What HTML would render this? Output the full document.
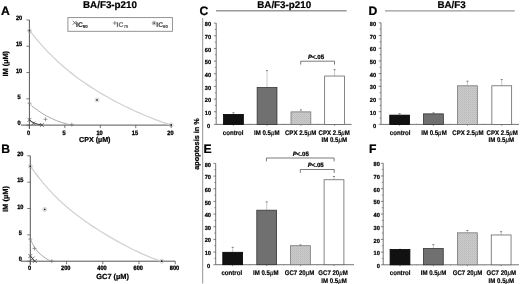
<!DOCTYPE html>
<html><head><meta charset="utf-8"><style>
html,body{margin:0;padding:0;background:#fff;}
svg{display:block;font-family:"Liberation Sans", sans-serif;text-rendering:geometricPrecision;filter:grayscale(1) blur(0.3px);}

</style></head><body>
<svg width="520" height="284" viewBox="0 0 520 284">
<defs><pattern id="dots" width="2" height="2" patternUnits="userSpaceOnUse"><rect width="2" height="2" fill="#cccccc"/><rect width="1" height="1" fill="#b9b9b9"/><rect x="1" y="1" width="1" height="1" fill="#c1c1c1"/></pattern></defs>
<rect width="520" height="284" fill="#fff"/>
<text x="1.0" y="15.2" font-size="12.2" font-weight="bold" text-anchor="start" fill="#000" stroke="#000" stroke-width="0.22" >A</text>
<text x="1.2" y="152.8" font-size="12.2" font-weight="bold" text-anchor="start" fill="#000" stroke="#000" stroke-width="0.22" >B</text>
<text x="199.5" y="14.8" font-size="12.2" font-weight="bold" text-anchor="start" fill="#000" stroke="#000" stroke-width="0.22" >C</text>
<text x="368.5" y="15.0" font-size="12.2" font-weight="bold" text-anchor="start" fill="#000" stroke="#000" stroke-width="0.22" >D</text>
<text x="203.5" y="153.0" font-size="12.2" font-weight="bold" text-anchor="start" fill="#000" stroke="#000" stroke-width="0.22" >E</text>
<text x="369.0" y="153.0" font-size="12.2" font-weight="bold" text-anchor="start" fill="#000" stroke="#000" stroke-width="0.22" >F</text>
<line x1="29.4" y1="20.0" x2="29.4" y2="129.0" stroke="#555" stroke-width="1.0"/>
<line x1="21.0" y1="125.1" x2="171.2" y2="125.1" stroke="#555" stroke-width="1.0"/>
<line x1="26.4" y1="125.1" x2="29.4" y2="125.1" stroke="#555" stroke-width="0.8"/>
<text transform="translate(19.0,125.1) scale(1,1.12)" font-size="5.6" font-weight="bold" text-anchor="middle" fill="#000" stroke="#000" stroke-width="0.3" >0</text>
<line x1="26.4" y1="98.82499999999999" x2="29.4" y2="98.82499999999999" stroke="#555" stroke-width="0.8"/>
<text transform="translate(19.0,98.82499999999999) scale(1,1.12)" font-size="5.6" font-weight="bold" text-anchor="middle" fill="#000" stroke="#000" stroke-width="0.3" >5</text>
<line x1="26.4" y1="72.55" x2="29.4" y2="72.55" stroke="#555" stroke-width="0.8"/>
<text transform="translate(19.0,72.55) scale(1,1.12)" font-size="5.6" font-weight="bold" text-anchor="middle" fill="#000" stroke="#000" stroke-width="0.3" >10</text>
<line x1="26.4" y1="46.27499999999999" x2="29.4" y2="46.27499999999999" stroke="#555" stroke-width="0.8"/>
<text transform="translate(19.0,46.27499999999999) scale(1,1.12)" font-size="5.6" font-weight="bold" text-anchor="middle" fill="#000" stroke="#000" stroke-width="0.3" >15</text>
<line x1="26.4" y1="20.0" x2="29.4" y2="20.0" stroke="#555" stroke-width="0.8"/>
<text transform="translate(19.0,20.0) scale(1,1.12)" font-size="5.6" font-weight="bold" text-anchor="middle" fill="#000" stroke="#000" stroke-width="0.3" >20</text>
<line x1="29.4" y1="125.1" x2="29.4" y2="128.1" stroke="#555" stroke-width="0.8"/>
<text transform="translate(28.599999999999998,134.9) scale(1,1.12)" font-size="5.6" font-weight="bold" text-anchor="middle" fill="#000" stroke="#000" stroke-width="0.3" >0</text>
<line x1="64.85" y1="125.1" x2="64.85" y2="128.1" stroke="#555" stroke-width="0.8"/>
<text transform="translate(64.05,134.9) scale(1,1.12)" font-size="5.6" font-weight="bold" text-anchor="middle" fill="#000" stroke="#000" stroke-width="0.3" >5</text>
<line x1="100.29999999999998" y1="125.1" x2="100.29999999999998" y2="128.1" stroke="#555" stroke-width="0.8"/>
<text transform="translate(99.49999999999999,134.9) scale(1,1.12)" font-size="5.6" font-weight="bold" text-anchor="middle" fill="#000" stroke="#000" stroke-width="0.3" >10</text>
<line x1="135.74999999999997" y1="125.1" x2="135.74999999999997" y2="128.1" stroke="#555" stroke-width="0.8"/>
<text transform="translate(134.94999999999996,134.9) scale(1,1.12)" font-size="5.6" font-weight="bold" text-anchor="middle" fill="#000" stroke="#000" stroke-width="0.3" >15</text>
<line x1="171.2" y1="125.1" x2="171.2" y2="128.1" stroke="#555" stroke-width="0.8"/>
<text transform="translate(170.39999999999998,134.9) scale(1,1.12)" font-size="5.6" font-weight="bold" text-anchor="middle" fill="#000" stroke="#000" stroke-width="0.3" >20</text>
<text x="110.0" y="8.2" font-size="9.8" font-weight="bold" text-anchor="middle" fill="#000" stroke="#000" stroke-width="0.22" >BA/F3-p210</text>
<rect x="67.9" y="17.6" width="104.5" height="13.7" fill="#fff" stroke="#888" stroke-width="0.9"/>
<text x="79.0" y="142.2" font-size="7.15" font-weight="bold" text-anchor="start" fill="#000" stroke="#000" stroke-width="0.22" >CPX (µM)</text>
<text transform="translate(7.7,63.8) rotate(-90)" font-size="7.4" font-weight="bold" text-anchor="middle" stroke="#000" stroke-width="0.22">IM (µM)</text>
<line x1="30.3" y1="155.8" x2="30.3" y2="265.0" stroke="#555" stroke-width="1.0"/>
<line x1="21.0" y1="261.2" x2="175.3" y2="261.2" stroke="#555" stroke-width="1.0"/>
<line x1="27.3" y1="261.2" x2="30.3" y2="261.2" stroke="#555" stroke-width="0.8"/>
<text transform="translate(20.3,261.2) scale(1,1.12)" font-size="5.6" font-weight="bold" text-anchor="middle" fill="#000" stroke="#000" stroke-width="0.3" >0</text>
<line x1="27.3" y1="234.85" x2="30.3" y2="234.85" stroke="#555" stroke-width="0.8"/>
<text transform="translate(20.3,234.85) scale(1,1.12)" font-size="5.6" font-weight="bold" text-anchor="middle" fill="#000" stroke="#000" stroke-width="0.3" >5</text>
<line x1="27.3" y1="208.5" x2="30.3" y2="208.5" stroke="#555" stroke-width="0.8"/>
<text transform="translate(20.3,208.5) scale(1,1.12)" font-size="5.6" font-weight="bold" text-anchor="middle" fill="#000" stroke="#000" stroke-width="0.3" >10</text>
<line x1="27.3" y1="182.15" x2="30.3" y2="182.15" stroke="#555" stroke-width="0.8"/>
<text transform="translate(20.3,182.15) scale(1,1.12)" font-size="5.6" font-weight="bold" text-anchor="middle" fill="#000" stroke="#000" stroke-width="0.3" >15</text>
<line x1="27.3" y1="155.8" x2="30.3" y2="155.8" stroke="#555" stroke-width="0.8"/>
<text transform="translate(20.3,155.8) scale(1,1.12)" font-size="5.6" font-weight="bold" text-anchor="middle" fill="#000" stroke="#000" stroke-width="0.3" >20</text>
<line x1="30.3" y1="261.2" x2="30.3" y2="264.2" stroke="#555" stroke-width="0.8"/>
<text transform="translate(29.5,270.4) scale(1,1.12)" font-size="5.6" font-weight="bold" text-anchor="middle" fill="#000" stroke="#000" stroke-width="0.3" >0</text>
<line x1="66.55" y1="261.2" x2="66.55" y2="264.2" stroke="#555" stroke-width="0.8"/>
<text transform="translate(65.75,270.4) scale(1,1.12)" font-size="5.6" font-weight="bold" text-anchor="middle" fill="#000" stroke="#000" stroke-width="0.3" >200</text>
<line x1="102.8" y1="261.2" x2="102.8" y2="264.2" stroke="#555" stroke-width="0.8"/>
<text transform="translate(102.0,270.4) scale(1,1.12)" font-size="5.6" font-weight="bold" text-anchor="middle" fill="#000" stroke="#000" stroke-width="0.3" >400</text>
<line x1="139.05" y1="261.2" x2="139.05" y2="264.2" stroke="#555" stroke-width="0.8"/>
<text transform="translate(138.25,270.4) scale(1,1.12)" font-size="5.6" font-weight="bold" text-anchor="middle" fill="#000" stroke="#000" stroke-width="0.3" >600</text>
<line x1="175.3" y1="261.2" x2="175.3" y2="264.2" stroke="#555" stroke-width="0.8"/>
<text transform="translate(174.5,270.4) scale(1,1.12)" font-size="5.6" font-weight="bold" text-anchor="middle" fill="#000" stroke="#000" stroke-width="0.3" >800</text>
<text x="96.3" y="278.7" font-size="7.4" font-weight="bold" text-anchor="start" fill="#000" stroke="#000" stroke-width="0.22" >GC7 (µM)</text>
<text transform="translate(8.0,199) rotate(-90)" font-size="7.5" font-weight="bold" text-anchor="middle" stroke="#000" stroke-width="0.22">IM (µM)</text>
<path d="M29.40,30.70 C29.90,31.27 31.40,32.92 32.40,34.11 C33.40,35.29 34.40,36.61 35.40,37.82 C36.40,39.03 37.40,40.22 38.40,41.39 C39.40,42.56 40.40,43.70 41.40,44.83 C42.40,45.95 43.40,47.06 44.40,48.14 C45.40,49.22 46.40,50.29 47.40,51.33 C48.40,52.37 49.40,53.40 50.40,54.41 C51.40,55.41 52.40,56.40 53.40,57.37 C54.40,58.34 55.40,59.29 56.40,60.23 C57.40,61.17 58.40,62.09 59.40,62.99 C60.40,63.89 61.40,64.78 62.40,65.66 C63.40,66.53 64.40,67.39 65.40,68.23 C66.40,69.07 67.40,69.90 68.40,70.72 C69.40,71.54 70.40,72.34 71.40,73.13 C72.40,73.92 73.40,74.70 74.40,75.46 C75.40,76.23 76.40,76.98 77.40,77.72 C78.40,78.46 79.40,79.19 80.40,79.91 C81.40,80.63 82.40,81.34 83.40,82.04 C84.40,82.73 85.40,83.42 86.40,84.10 C87.40,84.78 88.40,85.45 89.40,86.10 C90.40,86.76 91.40,87.41 92.40,88.05 C93.40,88.69 94.40,89.33 95.40,89.95 C96.40,90.57 97.40,91.19 98.40,91.79 C99.40,92.40 100.40,93.00 101.40,93.59 C102.40,94.18 103.40,94.77 104.40,95.35 C105.40,95.92 106.40,96.49 107.40,97.06 C108.40,97.62 109.40,98.18 110.40,98.72 C111.40,99.27 112.40,99.82 113.40,100.35 C114.40,100.89 115.40,101.42 116.40,101.95 C117.40,102.47 118.40,102.99 119.40,103.50 C120.40,104.01 121.40,104.52 122.40,105.02 C123.40,105.52 124.40,106.02 125.40,106.51 C126.40,107.00 127.40,107.48 128.40,107.96 C129.40,108.44 130.40,108.91 131.40,109.38 C132.40,109.85 133.40,110.31 134.40,110.77 C135.40,111.22 136.40,111.68 137.40,112.12 C138.40,112.57 139.40,113.01 140.40,113.45 C141.40,113.88 142.40,114.31 143.40,114.74 C144.40,115.16 145.40,115.58 146.40,116.00 C147.40,116.41 148.40,116.82 149.40,117.23 C150.40,117.63 151.40,118.03 152.40,118.42 C153.40,118.81 154.40,119.20 155.40,119.58 C156.40,119.96 157.40,120.33 158.40,120.70 C159.40,121.07 160.40,121.43 161.40,121.79 C162.40,122.15 163.40,122.50 164.40,122.84 C165.40,123.18 166.40,123.52 167.40,123.85 C168.40,124.18 169.75,124.61 170.40,124.82 C171.05,125.03 171.15,125.05 171.30,125.10" stroke="#d2d2d2" stroke-width="1.3" fill="none"/>
<path d="M29.60,103.10 C30.02,103.62 31.00,105.18 32.10,106.20 C33.20,107.22 34.67,108.10 36.20,109.20 C37.73,110.30 39.60,111.68 41.30,112.80 C43.00,113.92 44.70,114.97 46.40,115.90 C48.10,116.83 49.80,117.60 51.50,118.40 C53.20,119.20 54.90,120.02 56.60,120.70 C58.30,121.38 60.00,121.95 61.70,122.50 C63.40,123.05 65.10,123.58 66.80,124.00 C68.50,124.42 71.05,124.83 71.90,125.00" stroke="#a0a0a0" stroke-width="0.9" fill="none"/>
<path d="M29.60,119.90 C30.18,120.33 31.78,121.80 33.10,122.50 C34.42,123.20 35.97,123.68 37.50,124.10 C39.03,124.52 41.50,124.85 42.30,125.00" stroke="#333" stroke-width="1.0" fill="none"/>
<path d="M30.50,166.60 C31.00,167.23 32.50,169.06 33.50,170.37 C34.50,171.69 35.50,173.15 36.50,174.49 C37.50,175.83 38.50,177.13 39.50,178.41 C40.50,179.68 41.50,180.92 42.50,182.14 C43.50,183.36 44.50,184.54 45.50,185.70 C46.50,186.86 47.50,187.99 48.50,189.10 C49.50,190.21 50.50,191.29 51.50,192.35 C52.50,193.41 53.50,194.44 54.50,195.46 C55.50,196.47 56.50,197.46 57.50,198.43 C58.50,199.41 59.50,200.36 60.50,201.29 C61.50,202.22 62.50,203.14 63.50,204.03 C64.50,204.93 65.50,205.81 66.50,206.67 C67.50,207.53 68.50,208.38 69.50,209.21 C70.50,210.04 71.50,210.86 72.50,211.66 C73.50,212.47 74.50,213.25 75.50,214.03 C76.50,214.81 77.50,215.57 78.50,216.32 C79.50,217.08 80.50,217.82 81.50,218.55 C82.50,219.28 83.50,219.99 84.50,220.70 C85.50,221.41 86.50,222.11 87.50,222.80 C88.50,223.49 89.50,224.18 90.50,224.85 C91.50,225.52 92.50,226.19 93.50,226.84 C94.50,227.50 95.50,228.15 96.50,228.79 C97.50,229.43 98.50,230.07 99.50,230.69 C100.50,231.32 101.50,231.94 102.50,232.56 C103.50,233.17 104.50,233.78 105.50,234.38 C106.50,234.99 107.50,235.58 108.50,236.17 C109.50,236.76 110.50,237.35 111.50,237.93 C112.50,238.51 113.50,239.08 114.50,239.65 C115.50,240.22 116.50,240.78 117.50,241.34 C118.50,241.89 119.50,242.45 120.50,242.99 C121.50,243.54 122.50,244.08 123.50,244.61 C124.50,245.15 125.50,245.68 126.50,246.20 C127.50,246.72 128.50,247.24 129.50,247.75 C130.50,248.26 131.50,248.77 132.50,249.27 C133.50,249.77 134.50,250.26 135.50,250.74 C136.50,251.23 137.50,251.71 138.50,252.18 C139.50,252.65 140.50,253.11 141.50,253.57 C142.50,254.02 143.50,254.47 144.50,254.91 C145.50,255.34 146.50,255.77 147.50,256.19 C148.50,256.61 149.50,257.02 150.50,257.42 C151.50,257.82 152.50,258.21 153.50,258.59 C154.50,258.97 155.50,259.34 156.50,259.69 C157.50,260.05 158.67,260.47 159.50,260.72 C160.33,260.97 161.17,261.12 161.50,261.20" stroke="#d2d2d2" stroke-width="1.3" fill="none"/>
<path d="M30.50,239.20 C30.82,239.90 31.82,242.20 32.40,243.40 C32.98,244.60 33.12,245.03 34.00,246.40 C34.88,247.77 36.20,249.93 37.70,251.60 C39.20,253.27 41.23,255.02 43.00,256.40 C44.77,257.78 46.75,259.10 48.30,259.90 C49.85,260.70 51.63,260.98 52.30,261.20" stroke="#a0a0a0" stroke-width="0.9" fill="none"/>
<path d="M30.50,256.10 C30.85,256.55 31.92,257.95 32.60,258.80 C33.28,259.65 34.27,260.80 34.60,261.20" stroke="#333" stroke-width="1.0" fill="none"/>
<circle cx="29.4" cy="30.7" r="2.0" fill="none" stroke="#aaa" stroke-width="0.5"/>
<circle cx="29.4" cy="30.7" r="0.9" fill="#222"/>
<circle cx="97.0" cy="99.9" r="2.0" fill="none" stroke="#aaa" stroke-width="0.5"/>
<circle cx="97.0" cy="99.9" r="0.9" fill="#222"/>
<circle cx="171.2" cy="125.0" r="2.0" fill="none" stroke="#aaa" stroke-width="0.5"/>
<circle cx="171.2" cy="125.0" r="0.9" fill="#222"/>
<path d="M27.4,103.2L31.4,103.2M29.4,101.2L29.4,105.2" stroke="#777" stroke-width="0.7" fill="none"/>
<path d="M43.5,119.3L47.5,119.3M45.5,117.3L45.5,121.3" stroke="#777" stroke-width="0.7" fill="none"/>
<path d="M69.8,124.7L73.8,124.7M71.8,122.7L71.8,126.7" stroke="#777" stroke-width="0.7" fill="none"/>
<path d="M27.4,117.9L31.4,121.9M27.4,121.9L31.4,117.9" stroke="#444" stroke-width="0.7" fill="none"/>
<path d="M31.299999999999997,121.5L35.3,125.5M31.299999999999997,125.5L35.3,121.5" stroke="#444" stroke-width="0.7" fill="none"/>
<path d="M39.9,123.0L43.9,127.0M39.9,127.0L43.9,123.0" stroke="#444" stroke-width="0.7" fill="none"/>
<circle cx="30.3" cy="166.3" r="2.0" fill="none" stroke="#aaa" stroke-width="0.5"/>
<circle cx="30.3" cy="166.3" r="0.9" fill="#222"/>
<circle cx="44.7" cy="209.4" r="2.0" fill="none" stroke="#aaa" stroke-width="0.5"/>
<circle cx="44.7" cy="209.4" r="0.9" fill="#222"/>
<circle cx="161.7" cy="261.2" r="2.0" fill="none" stroke="#aaa" stroke-width="0.5"/>
<circle cx="161.7" cy="261.2" r="0.9" fill="#222"/>
<path d="M28.3,239.1L32.3,239.1M30.3,237.1L30.3,241.1" stroke="#777" stroke-width="0.7" fill="none"/>
<path d="M32.4,248.4L36.4,248.4M34.4,246.4L34.4,250.4" stroke="#777" stroke-width="0.7" fill="none"/>
<path d="M49.8,261.2L53.8,261.2M51.8,259.2L51.8,263.2" stroke="#777" stroke-width="0.7" fill="none"/>
<path d="M28.3,254.0L32.3,258.0M28.3,258.0L32.3,254.0" stroke="#444" stroke-width="0.7" fill="none"/>
<path d="M30.6,256.6L34.6,260.6M30.6,260.6L34.6,256.6" stroke="#444" stroke-width="0.7" fill="none"/>
<path d="M32.8,259.0L36.8,263.0M32.8,263.0L36.8,259.0" stroke="#444" stroke-width="0.7" fill="none"/>
<path d="M72.7,20.8L76.7,24.8M72.7,24.8L76.7,20.8" stroke="#444" stroke-width="0.7" fill="none"/>
<text x="76.0" y="26.8" font-size="6.8" font-weight="bold" text-anchor="start" fill="#222" stroke="#222" stroke-width="0.1" >IC<tspan font-size="4.4" dy="1.4">50</tspan></text>
<path d="M112.8,23.0L116.8,23.0M114.8,21.0L114.8,25.0" stroke="#666" stroke-width="0.7" fill="none"/>
<text x="116.6" y="26.8" font-size="6.8" font-weight="bold" text-anchor="start" fill="#666" stroke="#666" stroke-width="0.1" >IC<tspan font-size="4.4" dy="1.4">75</tspan></text>
<circle cx="154.1" cy="23.1" r="1.9" fill="none" stroke="#666" stroke-width="0.5"/>
<circle cx="154.1" cy="23.1" r="0.9" fill="#222"/>
<text x="156.3" y="26.8" font-size="6.8" font-weight="bold" text-anchor="start" fill="#444" stroke="#444" stroke-width="0.1" >IC<tspan font-size="4.4" dy="1.4">90</tspan></text>
<line x1="216.2" y1="23.120000000000005" x2="216.2" y2="124.4" stroke="#505050" stroke-width="0.8"/>
<line x1="213.89999999999998" y1="124.4" x2="216.2" y2="124.4" stroke="#505050" stroke-width="0.7"/>
<text transform="translate(210.2,127.5) scale(1,1.03)" font-size="5.7" font-weight="bold" text-anchor="end" fill="#000" stroke="#000" stroke-width="0.22" >0</text>
<line x1="214.79999999999998" y1="118.07000000000001" x2="216.2" y2="118.07000000000001" stroke="#505050" stroke-width="0.6"/>
<line x1="213.89999999999998" y1="111.74000000000001" x2="216.2" y2="111.74000000000001" stroke="#505050" stroke-width="0.7"/>
<text transform="translate(211.2,114.84) scale(1,1.03)" font-size="5.7" font-weight="bold" text-anchor="end" fill="#000" stroke="#000" stroke-width="0.22" >10</text>
<line x1="214.79999999999998" y1="105.41" x2="216.2" y2="105.41" stroke="#505050" stroke-width="0.6"/>
<line x1="213.89999999999998" y1="99.08000000000001" x2="216.2" y2="99.08000000000001" stroke="#505050" stroke-width="0.7"/>
<text transform="translate(211.2,102.18) scale(1,1.03)" font-size="5.7" font-weight="bold" text-anchor="end" fill="#000" stroke="#000" stroke-width="0.22" >20</text>
<line x1="214.79999999999998" y1="92.75" x2="216.2" y2="92.75" stroke="#505050" stroke-width="0.6"/>
<line x1="213.89999999999998" y1="86.42" x2="216.2" y2="86.42" stroke="#505050" stroke-width="0.7"/>
<text transform="translate(211.2,89.52) scale(1,1.03)" font-size="5.7" font-weight="bold" text-anchor="end" fill="#000" stroke="#000" stroke-width="0.22" >30</text>
<line x1="214.79999999999998" y1="80.09" x2="216.2" y2="80.09" stroke="#505050" stroke-width="0.6"/>
<line x1="213.89999999999998" y1="73.76" x2="216.2" y2="73.76" stroke="#505050" stroke-width="0.7"/>
<text transform="translate(211.2,76.86) scale(1,1.03)" font-size="5.7" font-weight="bold" text-anchor="end" fill="#000" stroke="#000" stroke-width="0.22" >40</text>
<line x1="214.79999999999998" y1="67.43" x2="216.2" y2="67.43" stroke="#505050" stroke-width="0.6"/>
<line x1="213.89999999999998" y1="61.10000000000001" x2="216.2" y2="61.10000000000001" stroke="#505050" stroke-width="0.7"/>
<text transform="translate(211.2,64.2) scale(1,1.03)" font-size="5.7" font-weight="bold" text-anchor="end" fill="#000" stroke="#000" stroke-width="0.22" >50</text>
<line x1="214.79999999999998" y1="54.77000000000001" x2="216.2" y2="54.77000000000001" stroke="#505050" stroke-width="0.6"/>
<line x1="213.89999999999998" y1="48.44" x2="216.2" y2="48.44" stroke="#505050" stroke-width="0.7"/>
<text transform="translate(211.2,51.54) scale(1,1.03)" font-size="5.7" font-weight="bold" text-anchor="end" fill="#000" stroke="#000" stroke-width="0.22" >60</text>
<line x1="214.79999999999998" y1="42.11" x2="216.2" y2="42.11" stroke="#505050" stroke-width="0.6"/>
<line x1="213.89999999999998" y1="35.78" x2="216.2" y2="35.78" stroke="#505050" stroke-width="0.7"/>
<text transform="translate(211.2,38.88) scale(1,1.03)" font-size="5.7" font-weight="bold" text-anchor="end" fill="#000" stroke="#000" stroke-width="0.22" >70</text>
<line x1="214.79999999999998" y1="29.450000000000003" x2="216.2" y2="29.450000000000003" stroke="#505050" stroke-width="0.6"/>
<line x1="213.89999999999998" y1="23.120000000000005" x2="216.2" y2="23.120000000000005" stroke="#505050" stroke-width="0.7"/>
<text transform="translate(211.2,26.220000000000006) scale(1,1.03)" font-size="5.7" font-weight="bold" text-anchor="end" fill="#000" stroke="#000" stroke-width="0.22" >80</text>
<line x1="216.2" y1="124.4" x2="351.6" y2="124.4" stroke="#505050" stroke-width="0.8"/>
<line x1="233.45" y1="124.4" x2="233.45" y2="125.9" stroke="#505050" stroke-width="0.6"/>
<line x1="250.25" y1="123.60000000000001" x2="250.25" y2="125.2" stroke="#888" stroke-width="0.5"/>
<line x1="267.05" y1="124.4" x2="267.05" y2="125.9" stroke="#505050" stroke-width="0.6"/>
<line x1="283.975" y1="123.60000000000001" x2="283.975" y2="125.2" stroke="#888" stroke-width="0.5"/>
<line x1="300.9" y1="124.4" x2="300.9" y2="125.9" stroke="#505050" stroke-width="0.6"/>
<line x1="317.725" y1="123.60000000000001" x2="317.725" y2="125.2" stroke="#888" stroke-width="0.5"/>
<line x1="334.55" y1="124.4" x2="334.55" y2="125.9" stroke="#505050" stroke-width="0.6"/>
<line x1="233.45" y1="112.373" x2="233.45" y2="114.3986" stroke="#bbb" stroke-width="0.8"/>
<line x1="232.45" y1="112.77300000000001" x2="234.45" y2="112.77300000000001" stroke="#666" stroke-width="0.8"/>
<rect x="223.54999999999998" y="114.3986" width="19.8" height="10.001400000000004" fill="#111" stroke="#000" stroke-width="0.8"/>
<line x1="267.05" y1="70.21520000000001" x2="267.05" y2="87.55940000000001" stroke="#bbb" stroke-width="0.8"/>
<line x1="266.05" y1="70.61520000000002" x2="268.05" y2="70.61520000000002" stroke="#666" stroke-width="0.8"/>
<rect x="257.15000000000003" y="87.55940000000001" width="19.8" height="36.840599999999995" fill="#707070" stroke="#333" stroke-width="0.8"/>
<line x1="300.9" y1="109.4612" x2="300.9" y2="111.8666" stroke="#bbb" stroke-width="0.8"/>
<line x1="299.9" y1="109.86120000000001" x2="301.9" y2="109.86120000000001" stroke="#666" stroke-width="0.8"/>
<rect x="291.0" y="111.8666" width="19.8" height="12.5334" fill="url(#dots)" stroke="#777" stroke-width="0.8"/>
<line x1="334.55" y1="69.32900000000001" x2="334.55" y2="76.03880000000001" stroke="#bbb" stroke-width="0.8"/>
<line x1="333.55" y1="69.72900000000001" x2="335.55" y2="69.72900000000001" stroke="#666" stroke-width="0.8"/>
<rect x="324.65000000000003" y="76.03880000000001" width="19.8" height="48.3612" fill="#fff" stroke="#666" stroke-width="0.8"/>
<text transform="translate(233.14999999999998,134.6) scale(1,1.1)" font-size="6.1" font-weight="bold" text-anchor="middle" fill="#000" stroke="#000" stroke-width="0.16" >control</text>
<text transform="translate(266.75,134.6) scale(1,1.1)" font-size="6.1" font-weight="bold" text-anchor="middle" fill="#000" stroke="#000" stroke-width="0.16" >IM 0.5<tspan font-weight="normal" font-style="italic">µ</tspan>M</text>
<text transform="translate(300.59999999999997,134.6) scale(1,1.1)" font-size="6.1" font-weight="bold" text-anchor="middle" fill="#000" stroke="#000" stroke-width="0.16" >CPX 2.5<tspan font-weight="normal" font-style="italic">µ</tspan>M</text>
<text transform="translate(334.25,134.6) scale(1,1.1)" font-size="6.1" font-weight="bold" text-anchor="middle" fill="#000" stroke="#000" stroke-width="0.16" >CPX 2.5<tspan font-weight="normal" font-style="italic">µ</tspan>M</text>
<text transform="translate(334.25,142.4) scale(1,1.1)" font-size="6.1" font-weight="bold" text-anchor="middle" fill="#000" stroke="#000" stroke-width="0.16" >IM 0.5<tspan font-weight="normal" font-style="italic">µ</tspan>M</text>
<line x1="381.0" y1="22.80000000000001" x2="381.0" y2="124.4" stroke="#505050" stroke-width="0.8"/>
<line x1="378.7" y1="124.4" x2="381.0" y2="124.4" stroke="#505050" stroke-width="0.7"/>
<text transform="translate(376.2,127.5) scale(1,1.03)" font-size="5.7" font-weight="bold" text-anchor="end" fill="#000" stroke="#000" stroke-width="0.22" >0</text>
<line x1="379.6" y1="118.05000000000001" x2="381.0" y2="118.05000000000001" stroke="#505050" stroke-width="0.6"/>
<line x1="378.7" y1="111.7" x2="381.0" y2="111.7" stroke="#505050" stroke-width="0.7"/>
<text transform="translate(376.2,114.8) scale(1,1.03)" font-size="5.7" font-weight="bold" text-anchor="end" fill="#000" stroke="#000" stroke-width="0.22" >10</text>
<line x1="379.6" y1="105.35000000000001" x2="381.0" y2="105.35000000000001" stroke="#505050" stroke-width="0.6"/>
<line x1="378.7" y1="99.0" x2="381.0" y2="99.0" stroke="#505050" stroke-width="0.7"/>
<text transform="translate(376.2,102.1) scale(1,1.03)" font-size="5.7" font-weight="bold" text-anchor="end" fill="#000" stroke="#000" stroke-width="0.22" >20</text>
<line x1="379.6" y1="92.65" x2="381.0" y2="92.65" stroke="#505050" stroke-width="0.6"/>
<line x1="378.7" y1="86.30000000000001" x2="381.0" y2="86.30000000000001" stroke="#505050" stroke-width="0.7"/>
<text transform="translate(376.2,89.4) scale(1,1.03)" font-size="5.7" font-weight="bold" text-anchor="end" fill="#000" stroke="#000" stroke-width="0.22" >30</text>
<line x1="379.6" y1="79.95" x2="381.0" y2="79.95" stroke="#505050" stroke-width="0.6"/>
<line x1="378.7" y1="73.60000000000001" x2="381.0" y2="73.60000000000001" stroke="#505050" stroke-width="0.7"/>
<text transform="translate(376.2,76.7) scale(1,1.03)" font-size="5.7" font-weight="bold" text-anchor="end" fill="#000" stroke="#000" stroke-width="0.22" >40</text>
<line x1="379.6" y1="67.25" x2="381.0" y2="67.25" stroke="#505050" stroke-width="0.6"/>
<line x1="378.7" y1="60.900000000000006" x2="381.0" y2="60.900000000000006" stroke="#505050" stroke-width="0.7"/>
<text transform="translate(376.2,64.0) scale(1,1.03)" font-size="5.7" font-weight="bold" text-anchor="end" fill="#000" stroke="#000" stroke-width="0.22" >50</text>
<line x1="379.6" y1="54.55000000000001" x2="381.0" y2="54.55000000000001" stroke="#505050" stroke-width="0.6"/>
<line x1="378.7" y1="48.2" x2="381.0" y2="48.2" stroke="#505050" stroke-width="0.7"/>
<text transform="translate(376.2,51.300000000000004) scale(1,1.03)" font-size="5.7" font-weight="bold" text-anchor="end" fill="#000" stroke="#000" stroke-width="0.22" >60</text>
<line x1="379.6" y1="41.85000000000001" x2="381.0" y2="41.85000000000001" stroke="#505050" stroke-width="0.6"/>
<line x1="378.7" y1="35.5" x2="381.0" y2="35.5" stroke="#505050" stroke-width="0.7"/>
<text transform="translate(376.2,38.6) scale(1,1.03)" font-size="5.7" font-weight="bold" text-anchor="end" fill="#000" stroke="#000" stroke-width="0.22" >70</text>
<line x1="379.6" y1="29.150000000000006" x2="381.0" y2="29.150000000000006" stroke="#505050" stroke-width="0.6"/>
<line x1="378.7" y1="22.80000000000001" x2="381.0" y2="22.80000000000001" stroke="#505050" stroke-width="0.7"/>
<text transform="translate(376.2,25.900000000000013) scale(1,1.03)" font-size="5.7" font-weight="bold" text-anchor="end" fill="#000" stroke="#000" stroke-width="0.22" >80</text>
<line x1="381.0" y1="124.4" x2="519.0" y2="124.4" stroke="#505050" stroke-width="0.8"/>
<line x1="399.65" y1="124.4" x2="399.65" y2="125.9" stroke="#505050" stroke-width="0.6"/>
<line x1="416.54999999999995" y1="123.60000000000001" x2="416.54999999999995" y2="125.2" stroke="#888" stroke-width="0.5"/>
<line x1="433.45" y1="124.4" x2="433.45" y2="125.9" stroke="#505050" stroke-width="0.6"/>
<line x1="450.45" y1="123.60000000000001" x2="450.45" y2="125.2" stroke="#888" stroke-width="0.5"/>
<line x1="467.45" y1="124.4" x2="467.45" y2="125.9" stroke="#505050" stroke-width="0.6"/>
<line x1="484.6" y1="123.60000000000001" x2="484.6" y2="125.2" stroke="#888" stroke-width="0.5"/>
<line x1="501.75" y1="124.4" x2="501.75" y2="125.9" stroke="#505050" stroke-width="0.6"/>
<line x1="399.65" y1="113.224" x2="399.65" y2="115.129" stroke="#bbb" stroke-width="0.8"/>
<line x1="398.65" y1="113.62400000000001" x2="400.65" y2="113.62400000000001" stroke="#666" stroke-width="0.8"/>
<rect x="389.75" y="115.129" width="19.8" height="9.271" fill="#111" stroke="#000" stroke-width="0.8"/>
<line x1="433.45" y1="112.462" x2="433.45" y2="113.85900000000001" stroke="#bbb" stroke-width="0.8"/>
<line x1="432.45" y1="112.86200000000001" x2="434.45" y2="112.86200000000001" stroke="#666" stroke-width="0.8"/>
<rect x="423.55" y="113.85900000000001" width="19.8" height="10.540999999999997" fill="#707070" stroke="#333" stroke-width="0.8"/>
<line x1="467.45" y1="80.839" x2="467.45" y2="85.792" stroke="#bbb" stroke-width="0.8"/>
<line x1="466.45" y1="81.239" x2="468.45" y2="81.239" stroke="#666" stroke-width="0.8"/>
<rect x="457.55" y="85.792" width="19.8" height="38.608000000000004" fill="url(#dots)" stroke="#777" stroke-width="0.8"/>
<line x1="501.75" y1="79.188" x2="501.75" y2="85.792" stroke="#bbb" stroke-width="0.8"/>
<line x1="500.75" y1="79.58800000000001" x2="502.75" y2="79.58800000000001" stroke="#666" stroke-width="0.8"/>
<rect x="491.85" y="85.792" width="19.8" height="38.608000000000004" fill="#fff" stroke="#666" stroke-width="0.8"/>
<text transform="translate(400.15,134.6) scale(1,1.1)" font-size="6.1" font-weight="bold" text-anchor="middle" fill="#000" stroke="#000" stroke-width="0.16" >control</text>
<text transform="translate(433.95,134.6) scale(1,1.1)" font-size="6.1" font-weight="bold" text-anchor="middle" fill="#000" stroke="#000" stroke-width="0.16" >IM 0.5<tspan font-weight="normal" font-style="italic">µ</tspan>M</text>
<text transform="translate(467.95,134.6) scale(1,1.1)" font-size="6.1" font-weight="bold" text-anchor="middle" fill="#000" stroke="#000" stroke-width="0.16" >CPX 2.5<tspan font-weight="normal" font-style="italic">µ</tspan>M</text>
<text transform="translate(502.25,134.6) scale(1,1.1)" font-size="6.1" font-weight="bold" text-anchor="middle" fill="#000" stroke="#000" stroke-width="0.16" >CPX 2.5<tspan font-weight="normal" font-style="italic">µ</tspan>M</text>
<text transform="translate(501.25,142.4) scale(1,1.1)" font-size="6.1" font-weight="bold" text-anchor="middle" fill="#000" stroke="#000" stroke-width="0.16" >IM 0.5<tspan font-weight="normal" font-style="italic">µ</tspan>M</text>
<line x1="215.7" y1="163.42" x2="215.7" y2="264.7" stroke="#505050" stroke-width="0.8"/>
<line x1="213.39999999999998" y1="264.7" x2="215.7" y2="264.7" stroke="#505050" stroke-width="0.7"/>
<text transform="translate(210.2,267.8) scale(1,1.03)" font-size="5.7" font-weight="bold" text-anchor="end" fill="#000" stroke="#000" stroke-width="0.22" >0</text>
<line x1="214.29999999999998" y1="258.37" x2="215.7" y2="258.37" stroke="#505050" stroke-width="0.6"/>
<line x1="213.39999999999998" y1="252.04" x2="215.7" y2="252.04" stroke="#505050" stroke-width="0.7"/>
<text transform="translate(211.0,255.14) scale(1,1.03)" font-size="5.7" font-weight="bold" text-anchor="end" fill="#000" stroke="#000" stroke-width="0.22" >10</text>
<line x1="214.29999999999998" y1="245.70999999999998" x2="215.7" y2="245.70999999999998" stroke="#505050" stroke-width="0.6"/>
<line x1="213.39999999999998" y1="239.38" x2="215.7" y2="239.38" stroke="#505050" stroke-width="0.7"/>
<text transform="translate(211.0,242.48) scale(1,1.03)" font-size="5.7" font-weight="bold" text-anchor="end" fill="#000" stroke="#000" stroke-width="0.22" >20</text>
<line x1="214.29999999999998" y1="233.04999999999998" x2="215.7" y2="233.04999999999998" stroke="#505050" stroke-width="0.6"/>
<line x1="213.39999999999998" y1="226.71999999999997" x2="215.7" y2="226.71999999999997" stroke="#505050" stroke-width="0.7"/>
<text transform="translate(211.0,229.81999999999996) scale(1,1.03)" font-size="5.7" font-weight="bold" text-anchor="end" fill="#000" stroke="#000" stroke-width="0.22" >30</text>
<line x1="214.29999999999998" y1="220.39" x2="215.7" y2="220.39" stroke="#505050" stroke-width="0.6"/>
<line x1="213.39999999999998" y1="214.06" x2="215.7" y2="214.06" stroke="#505050" stroke-width="0.7"/>
<text transform="translate(211.0,217.16) scale(1,1.03)" font-size="5.7" font-weight="bold" text-anchor="end" fill="#000" stroke="#000" stroke-width="0.22" >40</text>
<line x1="214.29999999999998" y1="207.73" x2="215.7" y2="207.73" stroke="#505050" stroke-width="0.6"/>
<line x1="213.39999999999998" y1="201.39999999999998" x2="215.7" y2="201.39999999999998" stroke="#505050" stroke-width="0.7"/>
<text transform="translate(211.0,204.49999999999997) scale(1,1.03)" font-size="5.7" font-weight="bold" text-anchor="end" fill="#000" stroke="#000" stroke-width="0.22" >50</text>
<line x1="214.29999999999998" y1="195.07" x2="215.7" y2="195.07" stroke="#505050" stroke-width="0.6"/>
<line x1="213.39999999999998" y1="188.73999999999998" x2="215.7" y2="188.73999999999998" stroke="#505050" stroke-width="0.7"/>
<text transform="translate(211.0,191.83999999999997) scale(1,1.03)" font-size="5.7" font-weight="bold" text-anchor="end" fill="#000" stroke="#000" stroke-width="0.22" >60</text>
<line x1="214.29999999999998" y1="182.40999999999997" x2="215.7" y2="182.40999999999997" stroke="#505050" stroke-width="0.6"/>
<line x1="213.39999999999998" y1="176.07999999999998" x2="215.7" y2="176.07999999999998" stroke="#505050" stroke-width="0.7"/>
<text transform="translate(211.0,179.17999999999998) scale(1,1.03)" font-size="5.7" font-weight="bold" text-anchor="end" fill="#000" stroke="#000" stroke-width="0.22" >70</text>
<line x1="214.29999999999998" y1="169.75" x2="215.7" y2="169.75" stroke="#505050" stroke-width="0.6"/>
<line x1="213.39999999999998" y1="163.42" x2="215.7" y2="163.42" stroke="#505050" stroke-width="0.7"/>
<text transform="translate(211.0,166.51999999999998) scale(1,1.03)" font-size="5.7" font-weight="bold" text-anchor="end" fill="#000" stroke="#000" stroke-width="0.22" >80</text>
<line x1="215.7" y1="264.7" x2="354.0" y2="264.7" stroke="#505050" stroke-width="0.8"/>
<line x1="232.7" y1="264.7" x2="232.7" y2="266.2" stroke="#505050" stroke-width="0.6"/>
<line x1="249.7" y1="263.9" x2="249.7" y2="265.5" stroke="#888" stroke-width="0.5"/>
<line x1="266.7" y1="264.7" x2="266.7" y2="266.2" stroke="#505050" stroke-width="0.6"/>
<line x1="283.575" y1="263.9" x2="283.575" y2="265.5" stroke="#888" stroke-width="0.5"/>
<line x1="300.45" y1="264.7" x2="300.45" y2="266.2" stroke="#505050" stroke-width="0.6"/>
<line x1="317.225" y1="263.9" x2="317.225" y2="265.5" stroke="#888" stroke-width="0.5"/>
<line x1="334.0" y1="264.7" x2="334.0" y2="266.2" stroke="#505050" stroke-width="0.6"/>
<line x1="232.7" y1="246.976" x2="232.7" y2="252.29319999999998" stroke="#bbb" stroke-width="0.8"/>
<line x1="231.7" y1="247.376" x2="233.7" y2="247.376" stroke="#666" stroke-width="0.8"/>
<rect x="222.79999999999998" y="252.29319999999998" width="19.8" height="12.406800000000004" fill="#111" stroke="#000" stroke-width="0.8"/>
<line x1="266.7" y1="201.52659999999997" x2="266.7" y2="210.19869999999997" stroke="#bbb" stroke-width="0.8"/>
<line x1="265.7" y1="201.92659999999998" x2="267.7" y2="201.92659999999998" stroke="#666" stroke-width="0.8"/>
<rect x="256.8" y="210.19869999999997" width="19.8" height="54.501300000000015" fill="#707070" stroke="#333" stroke-width="0.8"/>
<line x1="300.45" y1="244.444" x2="300.45" y2="245.70999999999998" stroke="#bbb" stroke-width="0.8"/>
<line x1="299.45" y1="244.844" x2="301.45" y2="244.844" stroke="#666" stroke-width="0.8"/>
<rect x="290.55" y="245.70999999999998" width="19.8" height="18.99000000000001" fill="url(#dots)" stroke="#777" stroke-width="0.8"/>
<line x1="334.0" y1="176.07999999999998" x2="334.0" y2="179.7514" stroke="#bbb" stroke-width="0.8"/>
<line x1="333.0" y1="176.48" x2="335.0" y2="176.48" stroke="#666" stroke-width="0.8"/>
<rect x="324.1" y="179.7514" width="19.8" height="84.9486" fill="#fff" stroke="#666" stroke-width="0.8"/>
<text transform="translate(231.75,275.0) scale(1,1.1)" font-size="6.1" font-weight="bold" text-anchor="middle" fill="#000" stroke="#000" stroke-width="0.16" >control</text>
<text transform="translate(265.75,275.0) scale(1,1.1)" font-size="6.1" font-weight="bold" text-anchor="middle" fill="#000" stroke="#000" stroke-width="0.16" >IM 0.5<tspan font-weight="normal" font-style="italic">µ</tspan>M</text>
<text transform="translate(299.5,275.0) scale(1,1.1)" font-size="6.1" font-weight="bold" text-anchor="middle" fill="#000" stroke="#000" stroke-width="0.16" >GC7 20<tspan font-weight="normal" font-style="italic">µ</tspan>M</text>
<text transform="translate(333.05,275.0) scale(1,1.1)" font-size="6.1" font-weight="bold" text-anchor="middle" fill="#000" stroke="#000" stroke-width="0.16" >GC7 20<tspan font-weight="normal" font-style="italic">µ</tspan>M</text>
<text transform="translate(334.05,282.8) scale(1,1.1)" font-size="6.1" font-weight="bold" text-anchor="middle" fill="#000" stroke="#000" stroke-width="0.16" >IM 0.5<tspan font-weight="normal" font-style="italic">µ</tspan>M</text>
<line x1="383.2" y1="163.28000000000003" x2="383.2" y2="264.8" stroke="#505050" stroke-width="0.8"/>
<line x1="380.9" y1="264.8" x2="383.2" y2="264.8" stroke="#505050" stroke-width="0.7"/>
<text transform="translate(379.9,267.90000000000003) scale(1,1.03)" font-size="5.7" font-weight="bold" text-anchor="end" fill="#000" stroke="#000" stroke-width="0.22" >0</text>
<line x1="381.8" y1="258.455" x2="383.2" y2="258.455" stroke="#505050" stroke-width="0.6"/>
<line x1="380.9" y1="252.11" x2="383.2" y2="252.11" stroke="#505050" stroke-width="0.7"/>
<text transform="translate(379.9,255.21) scale(1,1.03)" font-size="5.7" font-weight="bold" text-anchor="end" fill="#000" stroke="#000" stroke-width="0.22" >10</text>
<line x1="381.8" y1="245.76500000000001" x2="383.2" y2="245.76500000000001" stroke="#505050" stroke-width="0.6"/>
<line x1="380.9" y1="239.42000000000002" x2="383.2" y2="239.42000000000002" stroke="#505050" stroke-width="0.7"/>
<text transform="translate(379.9,242.52) scale(1,1.03)" font-size="5.7" font-weight="bold" text-anchor="end" fill="#000" stroke="#000" stroke-width="0.22" >20</text>
<line x1="381.8" y1="233.07500000000002" x2="383.2" y2="233.07500000000002" stroke="#505050" stroke-width="0.6"/>
<line x1="380.9" y1="226.73000000000002" x2="383.2" y2="226.73000000000002" stroke="#505050" stroke-width="0.7"/>
<text transform="translate(379.9,229.83) scale(1,1.03)" font-size="5.7" font-weight="bold" text-anchor="end" fill="#000" stroke="#000" stroke-width="0.22" >30</text>
<line x1="381.8" y1="220.38500000000002" x2="383.2" y2="220.38500000000002" stroke="#505050" stroke-width="0.6"/>
<line x1="380.9" y1="214.04000000000002" x2="383.2" y2="214.04000000000002" stroke="#505050" stroke-width="0.7"/>
<text transform="translate(379.9,217.14000000000001) scale(1,1.03)" font-size="5.7" font-weight="bold" text-anchor="end" fill="#000" stroke="#000" stroke-width="0.22" >40</text>
<line x1="381.8" y1="207.69500000000002" x2="383.2" y2="207.69500000000002" stroke="#505050" stroke-width="0.6"/>
<line x1="380.9" y1="201.35000000000002" x2="383.2" y2="201.35000000000002" stroke="#505050" stroke-width="0.7"/>
<text transform="translate(379.9,204.45000000000002) scale(1,1.03)" font-size="5.7" font-weight="bold" text-anchor="end" fill="#000" stroke="#000" stroke-width="0.22" >50</text>
<line x1="381.8" y1="195.005" x2="383.2" y2="195.005" stroke="#505050" stroke-width="0.6"/>
<line x1="380.9" y1="188.66000000000003" x2="383.2" y2="188.66000000000003" stroke="#505050" stroke-width="0.7"/>
<text transform="translate(379.9,191.76000000000002) scale(1,1.03)" font-size="5.7" font-weight="bold" text-anchor="end" fill="#000" stroke="#000" stroke-width="0.22" >60</text>
<line x1="381.8" y1="182.315" x2="383.2" y2="182.315" stroke="#505050" stroke-width="0.6"/>
<line x1="380.9" y1="175.97000000000003" x2="383.2" y2="175.97000000000003" stroke="#505050" stroke-width="0.7"/>
<text transform="translate(379.9,179.07000000000002) scale(1,1.03)" font-size="5.7" font-weight="bold" text-anchor="end" fill="#000" stroke="#000" stroke-width="0.22" >70</text>
<line x1="381.8" y1="169.625" x2="383.2" y2="169.625" stroke="#505050" stroke-width="0.6"/>
<line x1="380.9" y1="163.28000000000003" x2="383.2" y2="163.28000000000003" stroke="#505050" stroke-width="0.7"/>
<text transform="translate(379.9,166.38000000000002) scale(1,1.03)" font-size="5.7" font-weight="bold" text-anchor="end" fill="#000" stroke="#000" stroke-width="0.22" >80</text>
<line x1="383.2" y1="264.8" x2="519.0" y2="264.8" stroke="#505050" stroke-width="0.8"/>
<line x1="400.0" y1="264.8" x2="400.0" y2="266.3" stroke="#505050" stroke-width="0.6"/>
<line x1="416.675" y1="264.0" x2="416.675" y2="265.6" stroke="#888" stroke-width="0.5"/>
<line x1="433.35" y1="264.8" x2="433.35" y2="266.3" stroke="#505050" stroke-width="0.6"/>
<line x1="450.375" y1="264.0" x2="450.375" y2="265.6" stroke="#888" stroke-width="0.5"/>
<line x1="467.4" y1="264.8" x2="467.4" y2="266.3" stroke="#505050" stroke-width="0.6"/>
<line x1="484.275" y1="264.0" x2="484.275" y2="265.6" stroke="#888" stroke-width="0.5"/>
<line x1="501.15" y1="264.8" x2="501.15" y2="266.3" stroke="#505050" stroke-width="0.6"/>
<line x1="400.0" y1="248.9375" x2="400.0" y2="249.50855" stroke="#bbb" stroke-width="0.8"/>
<line x1="399.0" y1="249.3375" x2="401.0" y2="249.3375" stroke="#666" stroke-width="0.8"/>
<rect x="390.1" y="249.50855" width="19.8" height="15.291449999999998" fill="#111" stroke="#000" stroke-width="0.8"/>
<line x1="433.35" y1="244.24220000000003" x2="433.35" y2="248.5568" stroke="#bbb" stroke-width="0.8"/>
<line x1="432.35" y1="244.64220000000003" x2="434.35" y2="244.64220000000003" stroke="#666" stroke-width="0.8"/>
<rect x="423.45000000000005" y="248.5568" width="19.8" height="16.2432" fill="#707070" stroke="#333" stroke-width="0.8"/>
<line x1="467.4" y1="230.0294" x2="467.4" y2="232.8212" stroke="#bbb" stroke-width="0.8"/>
<line x1="466.4" y1="230.42940000000002" x2="468.4" y2="230.42940000000002" stroke="#666" stroke-width="0.8"/>
<rect x="457.5" y="232.8212" width="19.8" height="31.978800000000007" fill="url(#dots)" stroke="#777" stroke-width="0.8"/>
<line x1="501.15" y1="231.29840000000002" x2="501.15" y2="234.97850000000003" stroke="#bbb" stroke-width="0.8"/>
<line x1="500.15" y1="231.69840000000002" x2="502.15" y2="231.69840000000002" stroke="#666" stroke-width="0.8"/>
<rect x="491.25" y="234.97850000000003" width="19.8" height="29.821499999999986" fill="#fff" stroke="#666" stroke-width="0.8"/>
<text transform="translate(400.1,275.4) scale(1,1.1)" font-size="6.1" font-weight="bold" text-anchor="middle" fill="#000" stroke="#000" stroke-width="0.16" >control</text>
<text transform="translate(433.45000000000005,275.4) scale(1,1.1)" font-size="6.1" font-weight="bold" text-anchor="middle" fill="#000" stroke="#000" stroke-width="0.16" >IM 0.5<tspan font-weight="normal" font-style="italic">µ</tspan>M</text>
<text transform="translate(467.5,275.4) scale(1,1.1)" font-size="6.1" font-weight="bold" text-anchor="middle" fill="#000" stroke="#000" stroke-width="0.16" >GC7 20<tspan font-weight="normal" font-style="italic">µ</tspan>M</text>
<text transform="translate(501.25,275.4) scale(1,1.1)" font-size="6.1" font-weight="bold" text-anchor="middle" fill="#000" stroke="#000" stroke-width="0.16" >GC7 20<tspan font-weight="normal" font-style="italic">µ</tspan>M</text>
<text transform="translate(501.35,283.2) scale(1,1.1)" font-size="6.1" font-weight="bold" text-anchor="middle" fill="#000" stroke="#000" stroke-width="0.16" >IM 0.5<tspan font-weight="normal" font-style="italic">µ</tspan>M</text>
<line x1="216.0" y1="10.8" x2="346.6" y2="10.8" stroke="#999" stroke-width="1.4"/>
<text x="284.2" y="8.0" font-size="9.8" font-weight="bold" text-anchor="middle" fill="#000" stroke="#000" stroke-width="0.22" >BA/F3-p210</text>
<line x1="385.0" y1="10.9" x2="514.8" y2="10.9" stroke="#999" stroke-width="1.4"/>
<text x="451.6" y="7.8" font-size="9.8" font-weight="bold" text-anchor="middle" fill="#000" stroke="#000" stroke-width="0.22" >BA/F3</text>
<line x1="202.7" y1="18.2" x2="202.7" y2="283.5" stroke="#777" stroke-width="0.8"/>
<text transform="translate(198.6,144.0) rotate(-90)" font-size="7.3" font-weight="bold" text-anchor="middle" stroke="#000" stroke-width="0.22">apoptosis in %</text>
<path d="M300.7,64.60000000000001L300.7,61.2L334.5,61.2L334.5,64.60000000000001" stroke="#444" stroke-width="0.7" fill="none"/>
<text x="316.0" y="59.4" font-size="6.1" font-weight="bold" text-anchor="middle" fill="#000" stroke="#000" stroke-width="0.22" ><tspan font-style="italic">P</tspan>&lt;.05</text>
<path d="M266.4,161.4L266.4,158.0L334.1,158.0L334.1,161.4" stroke="#444" stroke-width="0.7" fill="none"/>
<text x="300.8" y="155.6" font-size="6.1" font-weight="bold" text-anchor="middle" fill="#000" stroke="#000" stroke-width="0.22" ><tspan font-style="italic">P</tspan>&lt;.05</text>
<path d="M300.3,172.9L300.3,169.5L334.2,169.5L334.2,172.9" stroke="#444" stroke-width="0.7" fill="none"/>
<text x="315.7" y="167.4" font-size="6.1" font-weight="bold" text-anchor="middle" fill="#000" stroke="#000" stroke-width="0.22" ><tspan font-style="italic">P</tspan>&lt;.05</text>
</svg>
</body></html>
